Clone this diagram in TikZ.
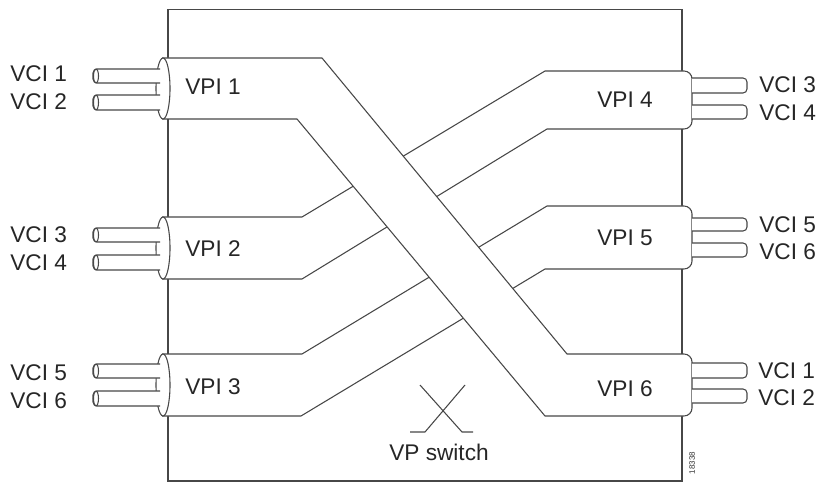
\documentclass[tikz,border=0pt]{standalone}
\usepackage{fontspec}
\setmainfont{Liberation Sans}
\begin{document}
\begin{tikzpicture}[x=0.75pt,y=-0.75pt,
  line/.style={draw=black!72,line width=0.8pt},
  tube/.style={line,fill=white},
  endcap/.style={line,fill=white},
  vci/.style={line,fill=white,rounded corners=3},
  lbl/.style={font=\fontsize{17}{20}\selectfont,text=black!85,inner sep=0pt,anchor=base west},
  tag/.style={font=\fontsize{6}{7}\selectfont,text=black!80,inner sep=0pt,rotate=90}]
\useasboundingbox (0,0) rectangle (823,484);
% switch box
\draw[line] (168,9.5) rectangle (682,481);
% ---- tube VPI 2 -> VPI 4
\filldraw[tube] (162,217) -- (302,217) -- (545,71) [rounded corners=6] -- (692,71) -- (692,129) [sharp corners] -- (547,129) -- (302,279) -- (162,279);
\draw[vci] (692,78) -- (747,78) -- (747,93) -- (692,93);
\draw[vci] (692,105) -- (747,105) -- (747,119) -- (692,119);
\filldraw[endcap] (163,248) ellipse [x radius=7, y radius=31];
\filldraw[vci] (160,228) -- (93,228) -- (93,242) -- (160,242);
\draw[line] (96,235) ellipse [x radius=2.5, y radius=7];
\filldraw[vci] (160,255) -- (93,255) -- (93,270) -- (160,270);
\draw[line] (96,262.5) ellipse [x radius=2.5, y radius=7.5];
% ---- tube VPI 3 -> VPI 5
\filldraw[tube] (162,354) -- (302,354) -- (547,206) [rounded corners=6] -- (692,206) -- (692,269) [sharp corners] -- (545,269) -- (301,416) -- (162,416);
\draw[vci] (692,218) -- (747,218) -- (747,231) -- (692,231);
\draw[vci] (692,243) -- (747,243) -- (747,257) -- (692,257);
\filldraw[endcap] (163,385) ellipse [x radius=7, y radius=31];
\filldraw[vci] (160,364) -- (93,364) -- (93,378) -- (160,378);
\draw[line] (96,371) ellipse [x radius=2.5, y radius=7];
\filldraw[vci] (160,391) -- (93,391) -- (93,406) -- (160,406);
\draw[line] (96,398.5) ellipse [x radius=2.5, y radius=7.5];
% ---- tube VPI 1 -> VPI 6 (on top)
\filldraw[tube] (162,58) -- (322,58) -- (567,354) [rounded corners=6] -- (692,354) -- (692,416) [sharp corners] -- (545,416) -- (297,119) -- (162,119);
\draw[vci] (692,363) -- (747,363) -- (747,378) -- (692,378);
\draw[vci] (692,389) -- (747,389) -- (747,403) -- (692,403);
\filldraw[endcap] (163,88.5) ellipse [x radius=7, y radius=30.5];
\filldraw[vci] (160,69) -- (93,69) -- (93,83) -- (160,83);
\draw[line] (96,76) ellipse [x radius=2.5, y radius=7];
\filldraw[vci] (160,95) -- (93,95) -- (93,110) -- (160,110);
\draw[line] (96,102.5) ellipse [x radius=2.5, y radius=7.5];
% ---- switch symbol
\draw[line] (420,385) -- (462,432) -- (473,432);
\draw[line] (465,385) -- (425,432) -- (410,432);
% ---- labels left
\node[lbl] (l1) at (10,82) {VCI 1};
\node[lbl] (l2) at (10,110) {VCI 2};
\node[lbl] (p1) at (185,95) {VPI 1};
\node[lbl] (l3) at (10,243) {VCI 3};
\node[lbl] (l4) at (10,271) {VCI 4};
\node[lbl] (p2) at (185,257) {VPI 2};
\node[lbl] (l5) at (10,380) {VCI 5};
\node[lbl] (l6) at (10,408) {VCI 6};
\node[lbl] (p3) at (185,394) {VPI 3};
% ---- labels right
\node[lbl] (p4) at (597,108) {VPI 4};
\node[lbl] (r3) at (759,93) {VCI 3};
\node[lbl] (r4) at (759,121) {VCI 4};
\node[lbl] (p5) at (597,246) {VPI 5};
\node[lbl] (r5) at (759,233) {VCI 5};
\node[lbl] (r6) at (759,260) {VCI 6};
\node[lbl] (p6) at (597,396) {VPI 6};
\node[lbl] (r1) at (758,378) {VCI 1};
\node[lbl] (r2) at (758,405) {VCI 2};
\node[lbl,anchor=base] (vp) at (439,460) {VP switch};
\node[tag] (id) at (692,463) {18338};
\end{tikzpicture}
\end{document}
